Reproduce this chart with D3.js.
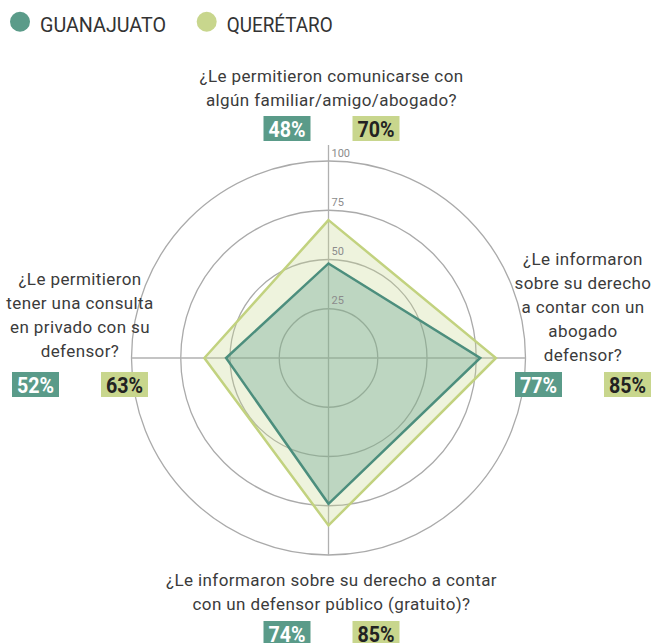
<!DOCTYPE html>
<html><head><meta charset="utf-8">
<script src="https://cdn.jsdelivr.net/npm/d3@7"></script>
<style>body{margin:0;background:#fff}svg{display:block}</style>
</head><body>
<svg id="c" width="651" height="643"></svg>
<script>
const seriesNames = ["GUANAJUATO", "QUERÉTARO"];
const questions = [
  ["¿Le permitieron comunicarse con", "algún familiar/amigo/abogado?"],
  ["¿Le informaron", "sobre su derecho", "a contar con un", "abogado", "defensor?"],
  ["¿Le informaron sobre su derecho a contar", "con un defensor público (gratuito)?"],
  ["¿Le permitieron", "tener una consulta", "en privado con su", "defensor?"]
];
const guanajuato = [48, 77, 74, 52];
const queretaro = [70, 85, 85, 63];
const ticks = [25, 50, 75, 100];

const colors = {teal: "#5a9b89", tealLine: "#4c8e7d", green: "#c8d68d", greenLine: "#c2d27f"};
const svg = d3.select("#c");
const cx = 328.5, cy = 358, R = 197;
const r = d3.scaleLinear().domain([0, 100]).range([0, R]);
const angle = d3.scaleLinear().domain([0, questions.length]).range([0, 2 * Math.PI]);
const font = "Roboto, 'DejaVu Sans', sans-serif";

const g = svg.append("g").attr("transform", `translate(${cx},${cy})`);

g.selectAll("circle.grid").data(ticks).join("circle")
  .attr("r", d => r(d)).attr("fill", "none").attr("stroke", "#aaaaaa").attr("stroke-width", 1.3);
g.append("line").attr("x1", -R).attr("x2", R).attr("y1", 0).attr("y2", 0).attr("stroke", "#b0b0b0").attr("stroke-width", 1.3);
g.append("line").attr("x1", 0).attr("x2", 0).attr("y1", -R - 16).attr("y2", R).attr("stroke", "#b0b0b0").attr("stroke-width", 1.3);

const radial = d3.lineRadial().angle((d, i) => angle(i)).radius(d => r(d)).curve(d3.curveLinearClosed);

g.append("path").datum(queretaro).attr("d", radial)
  .attr("fill", colors.green).attr("fill-opacity", 0.3)
  .attr("stroke", colors.greenLine).attr("stroke-width", 2.5).attr("stroke-linejoin", "miter");
g.append("path").datum(guanajuato).attr("d", radial)
  .attr("fill", colors.teal).attr("fill-opacity", 0.33)
  .attr("stroke", colors.tealLine).attr("stroke-width", 2.5).attr("stroke-linejoin", "miter");

g.selectAll("text.tick").data(ticks).join("text")
  .attr("x", 3).attr("y", d => -r(d) - 4.5)
  .attr("font-family", font).attr("font-size", 11).attr("fill", "#8c8c8c").text(d => d);

const labelPos = [
  {x: 331.5, y0: 82},
  {x: 583, y0: 265},
  {x: 331.5, y0: 586},
  {x: 80, y0: 285}
];
const boxY = [116, 372, 621, 372];
questions.forEach((lines, i) => {
  const p = labelPos[i];
  const t = svg.append("text").attr("font-family", font).attr("font-size", 17)
    .attr("letter-spacing", 0.4).attr("fill", "#3b3b3b").attr("text-anchor", "middle");
  lines.forEach((l, j) => t.append("tspan").attr("x", p.x).attr("y", p.y0 + j * 24).text(l));
  const vals = [guanajuato[i], queretaro[i]];
  vals.forEach((v, k) => {
    const bx = p.x + (k === 0 ? -68 : 21);
    svg.append("rect").attr("x", bx).attr("y", boxY[i]).attr("width", 47).attr("height", 25)
      .attr("fill", k === 0 ? colors.teal : colors.green);
    svg.append("text").attr("x", bx + 5).attr("y", boxY[i] + 21)
      .attr("font-family", font).attr("font-weight", "bold")
      .attr("font-size", 22).attr("textLength", 37).attr("lengthAdjust", "spacingAndGlyphs")
      .attr("fill", k === 0 ? "#ffffff" : "#222222").text(v + "%");
  });
});

const legendX = [20, 206.7];
seriesNames.forEach((n, i) => {
  svg.append("circle").attr("cx", legendX[i]).attr("cy", 21.7).attr("r", 10)
    .attr("fill", i === 0 ? colors.teal : colors.green);
  svg.append("text").attr("x", legendX[i] + 20).attr("y", 31.5)
    .attr("font-family", font).attr("font-size", 21).attr("fill", "#333")
    .attr("textLength", i === 0 ? 126 : 106).attr("lengthAdjust", "spacingAndGlyphs").text(n);
});
</script>
</body></html>
